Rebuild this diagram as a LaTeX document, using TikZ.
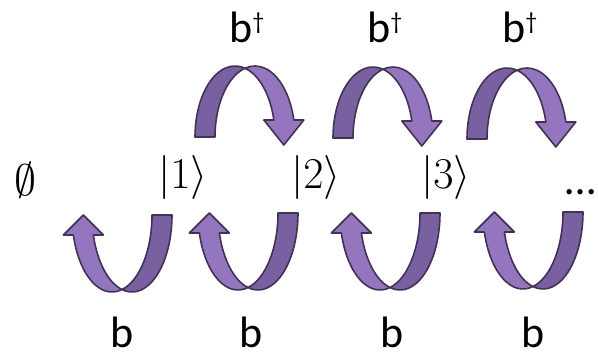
\RequirePackage{fix-cm}
\documentclass[tikz,border=0pt]{standalone}
\usepackage[no-math]{fontspec}
\setmainfont{Carlito}
\definecolor{ribD}{RGB}{121,96,160}
\definecolor{ribL}{RGB}{148,118,190}
\definecolor{ribE}{RGB}{66,50,86}
\tikzset{
  ribdark/.style={fill=ribD,draw=ribE,line width=1.6pt,line join=round},
  riblight/.style={fill=ribL,draw=ribE,line width=1.6pt,line join=round},
  lbl/.style={inner sep=0pt,font=\fontsize{44}{48}\selectfont},
  pics/ribbon/.style n args={3}{code={
    \pgfmathsetmacro\rb{#1}
    \pgfmathsetmacro\thb{-180+asin(#2/#1)}
    \pgfmathsetmacro\xo{-60+40*cos(\thb)}
    \pgfmathsetmacro\xi{-40+40*cos(\thb)}
    \pgfmathsetmacro\xm{(\xo+\xi)/2}
    \pgfmathsetmacro\yc{-\rb*sin(75.52)}
    \path[ribdark] (0,0) arc[start angle=0,end angle=-104.48,x radius=40pt,y radius=\rb pt]
      arc[start angle=-75.52,end angle=0,x radius=40pt,y radius=\rb pt] -- cycle;
    \path[riblight] (-50,\yc) arc[start angle=-75.52,end angle=\thb,x radius=40pt,y radius=\rb pt]
      -- (\xo-10,-#2) -- (\xm,#3) -- (\xi+10,-#2) -- (\xi,-#2)
      arc[start angle=\thb,end angle=-104.48,x radius=40pt,y radius=\rb pt] -- cycle;
  }}
}
\newcommand{\bdag}{b\raisebox{13pt}{\fontsize{24}{26}\selectfont †}}
\begin{document}
\begin{tikzpicture}[x=1pt,y=1pt]
\useasboundingbox (0,0) rectangle (598,354);
% top arrows (b dagger)
\pic[rotate=180] at (195,217) {ribbon={71}{17}{8}};
\pic[rotate=180] at (333,216) {ribbon={71}{17}{8}};
\pic[rotate=180] at (467,215) {ribbon={71}{17}{8}};
% bottom arrows (b)
\pic at (172,139) {ribbon={77}{20}{0}};
\pic at (298,141) {ribbon={77}{20}{0}};
\pic at (440,141) {ribbon={77}{20}{0}};
\pic at (583,142) {ribbon={77}{20}{0}};
% states
\node[lbl] (s0) at (25,174) {$\emptyset$};
\node[lbl] (s1) at (183,176) {$|1\rangle$};
\node[lbl] (s2) at (316,176) {$|2\rangle$};
\node[lbl] (s3) at (446,176) {$|3\rangle$};
\node[lbl,anchor=base] (sd) at (581,159) {…};
% labels
\node[lbl,anchor=base west] (u1) at (229,311) {\bdag};
\node[lbl,anchor=base west] (u2) at (367,311) {\bdag};
\node[lbl,anchor=base west] (u3) at (502,311) {\bdag};
\node[lbl,anchor=base,text depth=0pt] (d1) at (122,6) {b};
\node[lbl,anchor=base,text depth=0pt] (d2) at (251,6) {b};
\node[lbl,anchor=base,text depth=0pt] (d3) at (392,6) {b};
\node[lbl,anchor=base,text depth=0pt] (d4) at (533,6) {b};
\end{tikzpicture}
\end{document}
